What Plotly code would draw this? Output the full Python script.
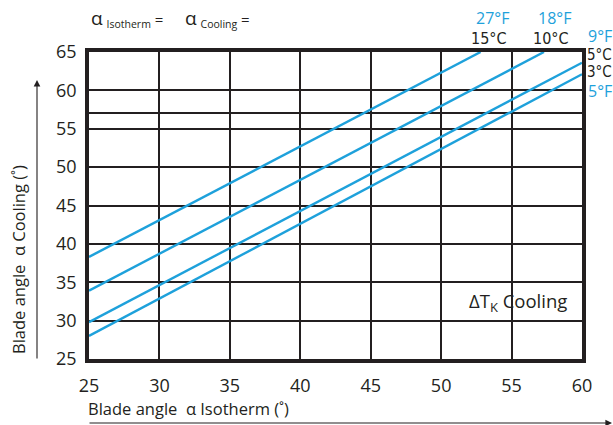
import plotly.graph_objects as go

# Blade angle conversion: isotherm angle -> cooling angle, per temperature difference
iso_start = [25, 25, 25, 25]
iso_end = [52.8, 57.3, 60, 60]
cool_start = [38.3, 33.9, 29.8, 28.0]
cool_end = [65, 65, 63.6, 62.1]
dt_fahrenheit = ["27°F", "18°F", "9°F", "5°F"]
dt_celsius = ["15°C", "10°C", "5°C", "3°C"]

x_ticks = [25, 30, 35, 40, 45, 50, 55, 60]
y_ticks = [25, 30, 35, 40, 45, 50, 55, 57.1, 60, 65]
y_ticktext = ["25", "30", "35", "40", "45", "50", "55", "", "60", "65"]

BLUE = "#1ea1db"
INK = "#231f20"
FONT = "Open Sans"
NARROW = "DejaVu Sans Condensed, Roboto Condensed, Liberation Sans Narrow, sans-serif"

fig_w, fig_h = 613, 425
ml, mr, mt, mb = 89, 31, 52, 66
pw, ph = fig_w - ml - mr, fig_h - mt - mb


def px_to_paper(px, py):
    return (px - ml) / pw, (fig_h - mb - py) / ph


fig = go.Figure()
for i in range(len(iso_start)):
    fig.add_trace(go.Scatter(
        x=[iso_start[i], iso_end[i]],
        y=[cool_start[i], cool_end[i]],
        mode="lines",
        line=dict(color=BLUE, width=2.4),
        showlegend=False,
        hoverinfo="skip",
    ))

annotations = []
# Labels at the upper ends of the two lines that exit through the top
for i, shift in enumerate([12, 11]):
    annotations.append(dict(x=iso_end[i], y=1.0, xref="x", yref="paper",
                            text=dt_fahrenheit[i], showarrow=False,
                            font=dict(family=FONT, size=16, color=BLUE),
                            xanchor="center", yanchor="bottom", yshift=21, xshift=shift))
    annotations.append(dict(x=iso_end[i], y=1.0, xref="x", yref="paper",
                            text=dt_celsius[i], showarrow=False,
                            font=dict(family=NARROW, size=16, color=INK),
                            xanchor="center", yanchor="bottom", yshift=2, xshift=shift - 4))
# Labels at the right edge for the two lines that exit through the side
annotations += [
    dict(x=1.0, y=cool_end[2], xref="paper", yref="y", text=dt_fahrenheit[2],
         showarrow=False, font=dict(family=FONT, size=16, color=BLUE),
         xanchor="left", yanchor="middle", xshift=4, yshift=27),
    dict(x=1.0, y=cool_end[2], xref="paper", yref="y", text=dt_celsius[2],
         showarrow=False, font=dict(family=NARROW, size=15, color=INK),
         xanchor="left", yanchor="middle", xshift=3, yshift=8),
    dict(x=1.0, y=cool_end[3], xref="paper", yref="y", text=dt_celsius[3],
         showarrow=False, font=dict(family=NARROW, size=15, color=INK),
         xanchor="left", yanchor="middle", xshift=3, yshift=2),
    dict(x=1.0, y=cool_end[3], xref="paper", yref="y", text=dt_fahrenheit[3],
         showarrow=False, font=dict(family=FONT, size=16, color=BLUE),
         xanchor="left", yanchor="middle", xshift=4, yshift=-17),
]

# Header formulas
hx, hy = px_to_paper(89, 18)
annotations.append(dict(x=hx, y=hy, xref="paper", yref="paper",
                        text="<span style='font-size:19px'>α</span> <sub>Isotherm</sub> =",
                        showarrow=False, font=dict(family=FONT, size=15, color=INK),
                        xanchor="left", yanchor="middle"))
hx, hy = px_to_paper(183, 18)
annotations.append(dict(x=hx, y=hy, xref="paper", yref="paper",
                        text="<span style='font-size:19px'>α</span> <sub>Cooling</sub> =",
                        showarrow=False, font=dict(family=FONT, size=15, color=INK),
                        xanchor="left", yanchor="middle"))

# Note inside the grid
nx, ny = px_to_paper(569, 302)
annotations.append(dict(x=nx, y=ny, xref="paper", yref="paper",
                        text="ΔT<sub><span style='color:#231f20'>K</span></sub> Cooling",
                        showarrow=False,
                        font=dict(family=FONT, size=18.5, color=INK),
                        xanchor="right", yanchor="middle"))

# Axis titles with their direction arrows
tx, ty = px_to_paper(18, 260)
annotations.append(dict(x=tx, y=ty, xref="paper", yref="paper",
                        text="Blade angle  α Cooling (˚)", textangle=-90,
                        showarrow=False, font=dict(family=FONT, size=16.5, color=INK),
                        xanchor="center", yanchor="middle"))
tx, ty = px_to_paper(86, 408)
annotations.append(dict(x=tx, y=ty, xref="paper", yref="paper",
                        text="Blade angle  α Isotherm (˚)",
                        showarrow=False, font=dict(family=FONT, size=16.5, color=INK),
                        xanchor="left", yanchor="middle"))
ax_, ay_ = px_to_paper(37, 80)
annotations.append(dict(x=ax_, y=ay_, xref="paper", yref="paper", text="",
                        showarrow=True, arrowhead=2, arrowsize=1.2, arrowwidth=1.1,
                        arrowcolor=INK, ax=0, ay=280))
ax_, ay_ = px_to_paper(614, 423)
annotations.append(dict(x=ax_, y=ay_, xref="paper", yref="paper", text="",
                        showarrow=True, arrowhead=2, arrowsize=1.2, arrowwidth=1.1,
                        arrowcolor=INK, ax=-526, ay=0))

fig.update_layout(
    width=fig_w, height=fig_h,
    margin=dict(l=ml, r=mr, t=mt, b=mb),
    paper_bgcolor="white", plot_bgcolor="white",
    annotations=annotations,
    xaxis=dict(range=[25, 60], tickvals=x_ticks, showgrid=True,
               gridcolor=INK, gridwidth=2, zeroline=False,
               showline=True, mirror=True, linecolor=INK, linewidth=3.5,
               ticks="", ticklabelstandoff=8,
               tickfont=dict(family=FONT, size=18, color=INK)),
    yaxis=dict(range=[25, 65], tickvals=y_ticks, ticktext=y_ticktext,
               showgrid=True, gridcolor=INK, gridwidth=2, zeroline=False,
               showline=True, mirror=True, linecolor=INK, linewidth=3.5,
               ticks="", ticklabelstandoff=5,
               tickfont=dict(family=FONT, size=18, color=INK)),
)

fig.write_html("out.html")
